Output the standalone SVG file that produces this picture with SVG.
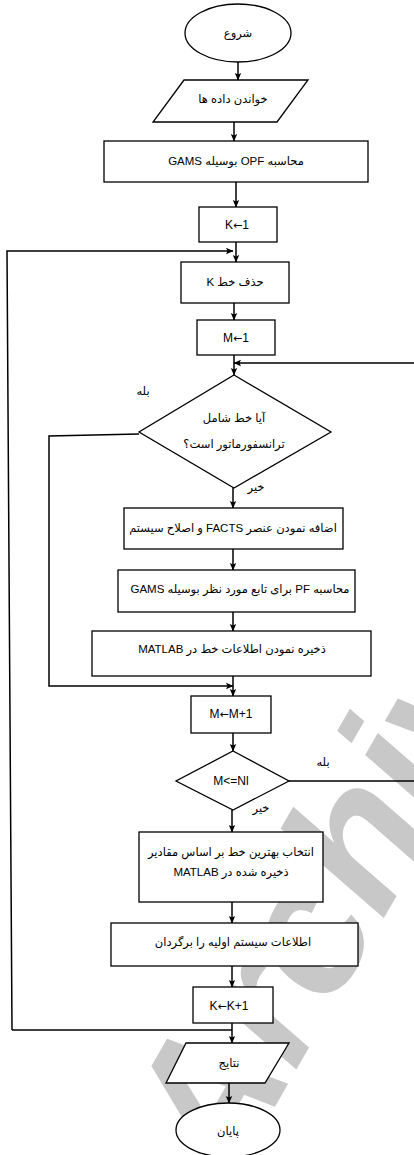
<svg xmlns="http://www.w3.org/2000/svg" width="414" height="1155" viewBox="0 0 414 1155">
<defs>
<marker id="ah" markerWidth="8" markerHeight="8" refX="7" refY="4" orient="auto" markerUnits="userSpaceOnUse">
<path d="M0,0.8 L7.5,4 L0,7.2 L1.5,4 z" fill="#000"/>
</marker>
<style>
.s{fill:#fff;stroke:#000;stroke-width:1.3}
.c{fill:none;stroke:#000;stroke-width:1.5}
.t{font-family:"Liberation Sans","DejaVu Sans",sans-serif;font-size:12px;fill:#000;text-anchor:middle;dominant-baseline:central}
.fa{direction:rtl;unicode-bidi:embed;font-size:11.5px}
.ar{font-family:"DejaVu Sans",sans-serif;font-size:11px}
.wm{font-family:"Liberation Sans","DejaVu Sans",sans-serif;font-size:185px;font-weight:bold;font-style:italic;fill:#c8c8c8}
</style>
</defs>
<rect width="414" height="1155" fill="#fff"/>
<text class="wm" transform="translate(228,1188) rotate(-60)">Archive</text>

<g id="connectors">
<path class="c" d="M238,62 V80" marker-end="url(#ah)"/>
<path class="c" d="M234,122 V141" marker-end="url(#ah)"/>
<path class="c" d="M236,182 V207" marker-end="url(#ah)"/>
<path class="c" d="M236,242 V262" marker-end="url(#ah)"/>
<path class="c" d="M12,1030 L7,251 H233" marker-end="url(#ah)"/>
<path class="c" d="M234,303 V320" marker-end="url(#ah)"/>
<path class="c" d="M234,355 V375" marker-end="url(#ah)"/>
<path class="c" d="M289,781 H416 V363 H234" stroke-width="2" marker-end="url(#ah)"/>
<path class="c" d="M139,434 L49,436 V686 H233" marker-end="url(#ah)"/>
<path class="c" d="M233,488 V508" marker-end="url(#ah)"/>
<path class="c" d="M233,549 V570" marker-end="url(#ah)"/>
<path class="c" d="M233,612 V631" marker-end="url(#ah)"/>
<path class="c" d="M233,676 V696" marker-end="url(#ah)"/>
<path class="c" d="M233,733 V751" marker-end="url(#ah)"/>
<path class="c" d="M232,810 V832" marker-end="url(#ah)"/>
<path class="c" d="M232,902 V923" marker-end="url(#ah)"/>
<path class="c" d="M232,966 V987" marker-end="url(#ah)"/>
<path class="c" d="M232,1023 V1043" marker-end="url(#ah)"/>
<path class="c" d="M232,1030 H12"/>
<path class="c" d="M229,1083 V1103" marker-end="url(#ah)"/>
</g>

<g id="start"><ellipse class="s" cx="238" cy="33" rx="53" ry="29"/><text class="t fa" x="238" y="33">شروع</text></g>
<g id="read"><polygon class="s" points="184,80 308,80 277,122 153,122"/><text class="t fa" x="233" y="99">خواندن داده ها</text></g>
<g id="opf"><rect class="s" x="104" y="141" width="264" height="41"/><text class="t fa" x="236" y="161">محاسبه OPF بوسیله GAMS</text></g>
<g id="k1"><rect class="s" x="199" y="207" width="78" height="35"/><text class="t" x="237" y="225">K<tspan class="ar">←</tspan>1</text></g>
<g id="delk"><rect class="s" x="181" y="262" width="108" height="41"/><text class="t fa" x="235" y="282">حذف خط K</text></g>
<g id="m1"><rect class="s" x="197" y="320" width="78" height="35"/><text class="t" x="236" y="338">M<tspan class="ar">←</tspan>1</text></g>
<g id="d1"><polygon class="s" points="234,375 331,432 234,488 139,432"/><text class="t fa" x="234" y="418">آیا خط شامل</text><text class="t fa" x="234" y="444">ترانسفورماتور است؟</text></g>
<text class="t fa" x="143" y="391" font-size="10.5">بله</text>
<text class="t fa" x="256" y="487" font-size="10.5">خیر</text>
<g id="facts"><rect class="s" x="124" y="508" width="219" height="41"/><text class="t fa" x="233" y="528">اضافه نمودن عنصر FACTS و اصلاح سیستم</text></g>
<g id="pf"><rect class="s" x="118" y="570" width="237" height="42"/><text class="t fa" x="240" y="589">محاسبه PF برای تابع مورد نظر بوسیله GAMS</text></g>
<g id="save"><rect class="s" x="92" y="631" width="279" height="45"/><text class="t fa" x="232" y="649">ذخیره نمودن اطلاعات خط در MATLAB</text></g>
<g id="mm1"><rect class="s" x="191" y="696" width="80" height="37"/><text class="t" x="231" y="714">M<tspan class="ar">←</tspan>M+1</text></g>
<g id="d2"><polygon class="s" points="233,751 289,781 233,810 176,781"/><text class="t" x="231" y="781">M&lt;=Nl</text></g>
<text class="t fa" x="323" y="762" font-size="10.5">بله</text>
<text class="t fa" x="261" y="808" font-size="10.5">خیر</text>
<g id="best"><rect class="s" x="139" y="832" width="184" height="70"/><text class="t fa" x="231" y="852">انتخاب بهترین خط بر اساس مقادیر</text><text class="t fa" x="231" y="872">ذخیره شده در MATLAB</text></g>
<g id="restore"><rect class="s" x="111" y="923" width="247" height="43"/><text class="t fa" x="233" y="942">اطلاعات سیستم اولیه را برگردان</text></g>
<g id="kk1"><rect class="s" x="193" y="987" width="80" height="36"/><text class="t" x="229" y="1006">K<tspan class="ar">←</tspan>K+1</text></g>
<g id="results"><polygon class="s" points="186,1043 289,1043 265,1083 166,1083"/><text class="t fa" x="229" y="1063">نتایج</text></g>
<g id="end"><ellipse class="s" cx="228" cy="1130" rx="52" ry="27"/><text class="t fa" x="228" y="1131">پایان</text></g>
</svg>
